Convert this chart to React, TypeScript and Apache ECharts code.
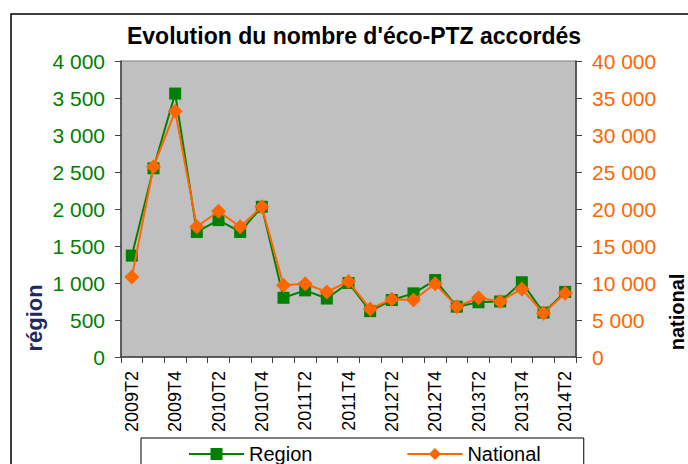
import React, { useEffect, useRef } from "react";
import * as echarts from "echarts";

const categories = [
  "2009T2", "2009T3", "2009T4", "2010T1", "2010T2", "2010T3", "2010T4",
  "2011T1", "2011T2", "2011T3", "2011T4", "2012T1", "2012T2", "2012T3",
  "2012T4", "2013T1", "2013T2", "2013T3", "2013T4", "2014T1", "2014T2",
];
const regionValues = [
  1370, 2550, 3560, 1690, 1850, 1690, 2030, 800, 900, 790, 1000, 620, 770, 860,
  1040, 680, 740, 750, 1010, 600, 880,
];
const nationalValues = [
  10800, 25700, 33200, 17600, 19700, 17600, 20300, 9700, 9900, 8800, 10200,
  6500, 7800, 7700, 9900, 6800, 8000, 7500, 9200, 5900, 8600,
];
const titleText = "Evolution du nombre d'éco-PTZ accordés";
const leftAxisName = "région";
const rightAxisName = "national";
const seriesNames = ["Region", "National"];

const FONT = "'Liberation Sans', Arial, sans-serif";
const GREEN = "#008000";
const ORANGE = "#FF6600";

const fmt = (v: number) => {
  const s = String(Math.round(v));
  return s.replace(/\B(?=(\d{3})+(?!\d))/g, " ");
};

export default function App() {
  const ref = useRef<HTMLDivElement>(null);
  useEffect(() => {
    if (!ref.current) return;
    const chart = echarts.init(ref.current, null, { renderer: "svg" });
    chart.setOption({
      animation: false,
      backgroundColor: "#ffffff",
      textStyle: { fontFamily: FONT },
      graphic: [
        {
          type: "rect",
          z: -10,
          shape: { x: 11, y: 14, width: 700, height: 480 },
          style: { fill: "none", stroke: "#000", lineWidth: 1.5 },
        },
        {
          type: "text",
          x: 354,
          y: 36,
          style: {
            text: titleText,
            fontFamily: FONT,
            fontSize: 23,
            fontWeight: "bold",
            fill: "#000",
            align: "center",
            verticalAlign: "middle",
          },
        },
        {
          type: "text",
          x: 34,
          y: 318,
          rotation: Math.PI / 2,
          style: {
            text: leftAxisName,
            fontFamily: FONT,
            fontSize: 22,
            fontWeight: "bold",
            fill: "#1F2A5C",
            align: "center",
            verticalAlign: "middle",
          },
        },
        {
          type: "text",
          x: 677,
          y: 312,
          rotation: Math.PI / 2,
          style: {
            text: rightAxisName,
            fontFamily: FONT,
            fontSize: 20,
            fontWeight: "bold",
            fill: "#000",
            align: "center",
            verticalAlign: "middle",
          },
        },
      ],
      grid: {
        left: 121,
        right: 112,
        top: 61,
        bottom: 107,
        show: true,
        backgroundColor: "#C0C0C0",
        borderColor: "#808080",
        borderWidth: 1,
      },
      legend: {
        left: 141,
        top: 438,
        padding: [6, 43, 12, 47],
        borderColor: "#000",
        borderWidth: 1,
        itemWidth: 55,
        itemHeight: 15,
        itemGap: 94,
        textStyle: { fontFamily: FONT, fontSize: 20, color: "#000" },
        data: seriesNames,
      },
      xAxis: {
        type: "category",
        data: categories,
        boundaryGap: true,
        axisLine: { show: true, lineStyle: { color: "#404040", width: 1.5 } },
        axisTick: { show: true, interval: 0, length: 6, lineStyle: { color: "#404040" } },
        axisLabel: {
          interval: 1,
          rotate: 90,
          margin: 14,
          fontSize: 18,
          color: "#000",
          fontFamily: FONT,
        },
        splitLine: { show: false },
      },
      yAxis: [
        {
          type: "value",
          min: 0,
          max: 4000,
          interval: 500,
          position: "left",
          axisLine: { show: true, lineStyle: { color: "#404040", width: 1.5 } },
          axisTick: { show: true, length: 6, lineStyle: { color: "#404040" } },
          axisLabel: {
            margin: 16,
            fontSize: 21,
            color: GREEN,
            fontFamily: FONT,
            formatter: fmt,
          },
          splitLine: { show: false },
        },
        {
          type: "value",
          min: 0,
          max: 40000,
          interval: 5000,
          position: "right",
          axisLine: { show: true, lineStyle: { color: "#404040", width: 1.5 } },
          axisTick: { show: true, length: 6, lineStyle: { color: "#404040" } },
          axisLabel: {
            margin: 16,
            fontSize: 21,
            color: ORANGE,
            fontFamily: FONT,
            formatter: fmt,
          },
          splitLine: { show: false },
        },
      ],
      series: [
        {
          name: seriesNames[0],
          type: "line",
          yAxisIndex: 0,
          data: regionValues,
          symbol: "rect",
          symbolSize: 12,
          showAllSymbol: true,
          lineStyle: { color: GREEN, width: 2 },
          itemStyle: { color: GREEN },
          z: 2,
        },
        {
          name: seriesNames[1],
          type: "line",
          yAxisIndex: 1,
          data: nationalValues,
          symbol: "diamond",
          symbolSize: 15,
          showAllSymbol: true,
          lineStyle: { color: ORANGE, width: 2 },
          itemStyle: { color: ORANGE },
          z: 3,
        },
      ],
    });
    return () => chart.dispose();
  }, []);
  return (
    <div
      ref={ref}
      style={{ position: "fixed", left: 0, top: 0, width: 688, height: 464 }}
    />
  );
}
